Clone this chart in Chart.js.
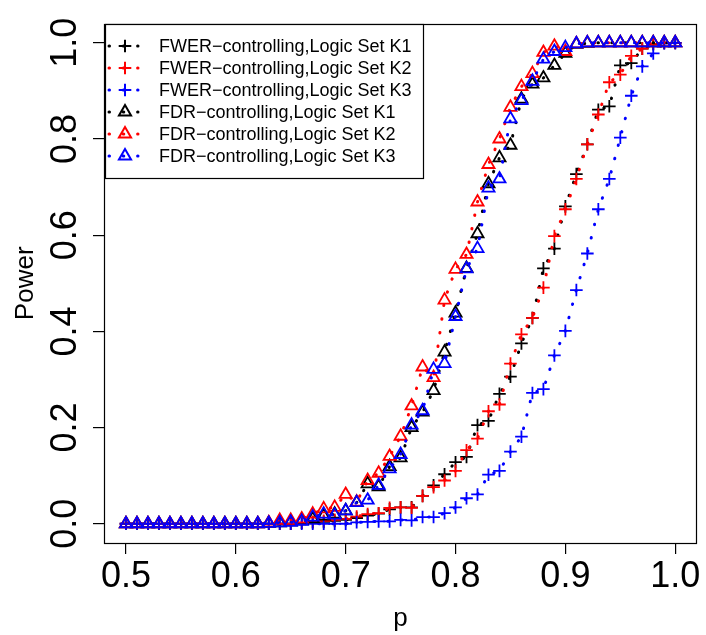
<!DOCTYPE html>
<html>
<head>
<meta charset="utf-8">
<script src="https://cdn.jsdelivr.net/npm/chart.js"></script>
<style>
  html, body { margin: 0; padding: 0; background: #ffffff; }
  #wrap { width: 706px; height: 635px; position: relative; }
</style>
</head>
<body>
<div id="wrap"><canvas id="c" width="706" height="635"></canvas></div>
<script>
// ---- data ----
const pValues = [0.50,0.51,0.52,0.53,0.54,0.55,0.56,0.57,0.58,0.59,
                 0.60,0.61,0.62,0.63,0.64,0.65,0.66,0.67,0.68,0.69,
                 0.70,0.71,0.72,0.73,0.74,0.75,0.76,0.77,0.78,0.79,
                 0.80,0.81,0.82,0.83,0.84,0.85,0.86,0.87,0.88,0.89,
                 0.90,0.91,0.92,0.93,0.94,0.95,0.96,0.97,0.98,0.99,1.00];

const fwerK1 = [0,0,0,0,0,0,0,0,0,0, 0,0,0,0,0,0,0.002,0.003,0.004,0.006,
                0.008,0.012,0.017,0.021,0.030,0.034,0.034,0.058,0.080,0.103,
                0.128,0.139,0.205,0.214,0.270,0.306,0.375,0.428,0.531,0.572,
                0.660,0.727,0.789,0.861,0.868,0.953,0.958,0.988,0.997,1.0,1.0];
const fwerK2 = [0,0,0,0,0,0,0,0,0,0, 0,0,0,0,0,0,0.002,0.004,0.006,0.008,
                0.010,0.015,0.020,0.022,0.033,0.034,0.033,0.058,0.076,0.090,
                0.110,0.153,0.177,0.234,0.248,0.333,0.394,0.428,0.491,0.598,
                0.654,0.717,0.789,0.851,0.918,0.934,0.973,0.988,0.998,1.0,1.0];
const fwerK3 = [0,0,0,0,0,0,0,0,0,0, 0,0,0,0,0,0,0,0,0,0,
                0,0.003,0.004,0.005,0.005,0.008,0.007,0.014,0.014,0.022,
                0.034,0.053,0.061,0.102,0.110,0.150,0.181,0.272,0.280,0.350,
                0.401,0.486,0.562,0.654,0.717,0.803,0.890,0.951,0.978,0.999,1.0];
const fdrK1  = [0,0,0,0,0,0,0,0,0,0, 0,0,0,0.001,0.002,0.004,0.006,0.010,0.016,0.020,
                0.027,0.044,0.083,0.077,0.119,0.137,0.200,0.232,0.277,0.357,
                0.438,0.531,0.603,0.707,0.761,0.787,0.883,0.914,0.927,0.953,
                0.978,0.997,0.999,1.0,1.0,1.0,1.0,1.0,1.0,1.0,1.0];
const fdrK2  = [0,0,0,0,0,0,0,0,0,0, 0,0,0,0.002,0.007,0.007,0.010,0.020,0.031,0.034,
                0.061,0.045,0.090,0.105,0.140,0.182,0.245,0.326,0.304,0.465,
                0.529,0.560,0.669,0.747,0.800,0.866,0.909,0.936,0.980,0.993,
                0.982,0.998,1.0,1.0,1.0,1.0,1.0,1.0,1.0,1.0,1.0];
const fdrK3  = [0,0,0,0,0,0,0,0,0,0, 0,0,0,0.001,0.002,0.003,0.005,0.014,0.020,0.018,
                0.027,0.044,0.049,0.080,0.114,0.144,0.205,0.235,0.321,0.333,
                0.431,0.530,0.572,0.698,0.717,0.842,0.880,0.920,0.966,0.982,
                0.990,0.998,1.0,1.0,1.0,1.0,1.0,1.0,1.0,1.0,1.0];

const seriesLabels = ["FWER\u2212controlling,Logic Set K1","FWER\u2212controlling,Logic Set K2","FWER\u2212controlling,Logic Set K3",
                      "FDR\u2212controlling,Logic Set K1","FDR\u2212controlling,Logic Set K2","FDR\u2212controlling,Logic Set K3"];
const seriesValues = [fwerK1, fwerK2, fwerK3, fdrK1, fdrK2, fdrK3];
const seriesColors = ["#000000","#ff0000","#0000ff","#000000","#ff0000","#0000ff"];
const seriesMarkers = ["cross","cross","cross","triangle","triangle","triangle"];

const xTickValues = [0.5,0.6,0.7,0.8,0.9,1.0];
const yTickValues = [0.0,0.2,0.4,0.6,0.8,1.0];
const xTitle = "p";
const yTitle = "Power";

// ---- styling ----
const FONT = "'Liberation Sans', Arial, Helvetica, sans-serif";
Chart.defaults.font.family = FONT;
Chart.defaults.color = "#000";

const datasets = seriesValues.map((vals, i) => ({
  label: seriesLabels[i],
  data: vals.map((v, j) => ({x: pValues[j], y: v})),
  borderColor: seriesColors[i],
  backgroundColor: "rgba(0,0,0,0)",
  borderWidth: 3,
  borderDash: [0.5, 13.3],
  borderCapStyle: "round",
  tension: 0,
  showLine: true,
  pointStyle: seriesMarkers[i],
  pointRadius: seriesMarkers[i] === "cross" ? 6.3 : 7,
  pointBorderWidth: 1.8,
  pointBorderColor: seriesColors[i],
  pointBackgroundColor: "rgba(0,0,0,0)",
  pointHoverRadius: 0,
  order: 5 - i,
  clip: false
}));

// R-style box around the plot region
const boxPlugin = {
  id: "rbox",
  afterDraw(chart) {
    const {ctx, chartArea: a} = chart;
    ctx.save();
    ctx.strokeStyle = "#000";
    ctx.lineWidth = 1.2;
    ctx.setLineDash([]);
    ctx.strokeRect(Math.round(a.left) + 0.5, Math.round(a.top) + 0.5,
                   Math.round(a.right - a.left) - 1, Math.round(a.bottom - a.top));
    ctx.restore();
  }
};

function drawMarker(ctx, style, x, y, r) {
  ctx.beginPath();
  if (style === "cross") {
    ctx.moveTo(x - r, y); ctx.lineTo(x + r, y);
    ctx.moveTo(x, y - r); ctx.lineTo(x, y + r);
  } else {
    ctx.moveTo(x, y - r);
    ctx.lineTo(x + r * Math.sin(2 * Math.PI / 3), y - r * Math.cos(2 * Math.PI / 3));
    ctx.lineTo(x + r * Math.sin(4 * Math.PI / 3), y - r * Math.cos(4 * Math.PI / 3));
    ctx.closePath();
  }
  ctx.stroke();
}

// R-style legend at top-left of the plot region
const legendPlugin = {
  id: "rlegend",
  afterDraw(chart) {
    const {ctx, chartArea: a} = chart;
    const L = Math.round(a.left) + 1, T = Math.round(a.top);
    const W = 318, H = 154;
    ctx.save();
    ctx.fillStyle = "#fff";
    ctx.fillRect(L + 0.5, T + 0.5, W, H);
    ctx.strokeStyle = "#000";
    ctx.lineWidth = 1.2;
    ctx.strokeRect(L + 0.5, T + 0.5, W, H);
    const fs = 18;
    ctx.font = fs + "px " + FONT;
    ctx.textBaseline = "alphabetic";
    ctx.textAlign = "left";
    chart.data.datasets.forEach((ds, i) => {
      const y = T + 22 + i * 22;
      ctx.strokeStyle = ds.borderColor;
      ctx.lineWidth = 3;
      ctx.lineCap = "round";
      ctx.setLineDash([0.5, 13.8]);
      ctx.beginPath();
      ctx.moveTo(L + 4, y);
      ctx.lineTo(L + 33, y);
      ctx.stroke();
      ctx.setLineDash([]);
      ctx.lineCap = "butt";
      ctx.lineWidth = 2;
      drawMarker(ctx, ds.pointStyle, L + 20, y, ds.pointStyle === "cross" ? 6.3 : 7);
      ctx.fillStyle = "#000";
      ctx.fillText(ds.label, L + 54, y + 0.358 * fs);
    });
    ctx.restore();
  }
};

new Chart(document.getElementById("c"), {
  type: "line",
  data: { datasets },
  options: {
    responsive: false,
    animation: false,
    devicePixelRatio: 1,
    events: [],
    layout: { padding: { top: 13, right: 4, left: 0, bottom: 0 } },
    plugins: { legend: { display: false }, tooltip: { enabled: false } },
    scales: {
      x: {
        type: "linear",
        min: 0.48, max: 1.02,
        afterBuildTicks(scale) { scale.ticks = xTickValues.map(v => ({value: v})); },
        afterFit(scale) { scale.height = 92; },
        ticks: {
          font: { size: 36 },
          color: "#000",
          padding: 1,
          maxRotation: 0, minRotation: 0,
          callback: v => Number(v).toFixed(1)
        },
        grid: { drawOnChartArea: false, drawTicks: true, tickLength: 11, color: "#000", lineWidth: 1.2 },
        border: { display: false },
        title: { display: true, text: xTitle, font: { size: 26 }, color: "#000", padding: { top: 0, bottom: 1 } }
      },
      y: {
        type: "linear",
        min: -0.04, max: 1.04,
        afterBuildTicks(scale) { scale.ticks = yTickValues.map(v => ({value: v})); },
        afterFit(scale) { scale.width = 104; },
        ticks: {
          font: { size: 36 },
          color: "#000",
          padding: 2,
          minRotation: 90, maxRotation: 90,
          crossAlign: "center",
          callback: v => Number(v).toFixed(1)
        },
        grid: { drawOnChartArea: false, drawTicks: true, tickLength: 11, color: "#000", lineWidth: 1.2 },
        border: { display: false },
        title: { display: true, text: yTitle, font: { size: 26 }, color: "#000", padding: { top: 10, bottom: 0 } }
      }
    }
  },
  plugins: [boxPlugin, legendPlugin]
});
</script>
</body>
</html>
